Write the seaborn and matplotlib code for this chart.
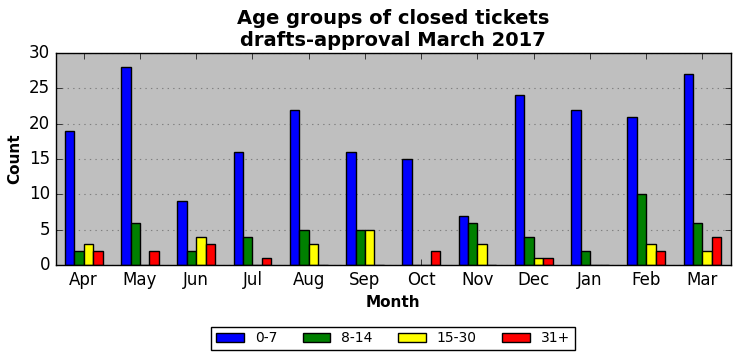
import pandas as pd
import matplotlib
matplotlib.use('Agg')
import matplotlib.pyplot as plt
import seaborn as sns

plt.style.use('classic')
plt.rcParams['font.family'] = ['DejaVu Sans']

months = ['Apr', 'May', 'Jun', 'Jul', 'Aug', 'Sep', 'Oct', 'Nov', 'Dec', 'Jan', 'Feb', 'Mar']
age_groups = ['0-7', '8-14', '15-30', '31+']
g0_7 = [19, 28, 9, 16, 22, 16, 15, 7, 24, 22, 21, 27]
g8_14 = [2, 6, 2, 4, 5, 5, 0, 6, 4, 2, 10, 6]
g15_30 = [3, 0, 4, 0, 3, 5, 0, 3, 1, 0, 3, 2]
g31 = [2, 2, 3, 1, 0, 0, 2, 0, 1, 0, 2, 4]
colors = ['#0000ff', '#008000', '#ffff00', '#ff0000']

rows = []
for grp, vals in zip(age_groups, [g0_7, g8_14, g15_30, g31]):
    for m, v in zip(months, vals):
        rows.append({'Month': m, 'Age': grp, 'Count': v})
df = pd.DataFrame(rows)

fig, ax = plt.subplots(figsize=(7.41, 3.61), dpi=100)
fig.patch.set_facecolor('white')
ax.set_facecolor('#bfbfbf')

sns.barplot(data=df, x='Month', y='Count', hue='Age', order=months,
            hue_order=age_groups, palette=colors, width=0.67,
            edgecolor='black', linewidth=1, ax=ax, saturation=1)

ax.set_xlim(-0.5, 11.5)
ax.set_ylim(0, 30)
ax.set_yticks(range(0, 31, 5))
ax.yaxis.grid(True, linestyle=':', color='#808080', linewidth=0.8)
ax.xaxis.grid(False)
ax.set_axisbelow(True)
ax.tick_params(labelsize=12)
ax.set_xlabel('Month', fontsize=11, fontweight='bold')
ax.set_ylabel('Count', fontsize=11, fontweight='bold')
ax.set_title('Age groups of closed tickets\ndrafts-approval March 2017',
             fontsize=14, fontweight='bold')

ax.legend(loc='upper center', bbox_to_anchor=(0.5, -0.258), ncol=4,
          fontsize=10, frameon=True, fancybox=False, columnspacing=1.8,
          borderpad=0.35)

fig.subplots_adjust(left=0.075, right=0.986, top=0.853, bottom=0.266)
fig.savefig('out.png', dpi=100, facecolor='white')
